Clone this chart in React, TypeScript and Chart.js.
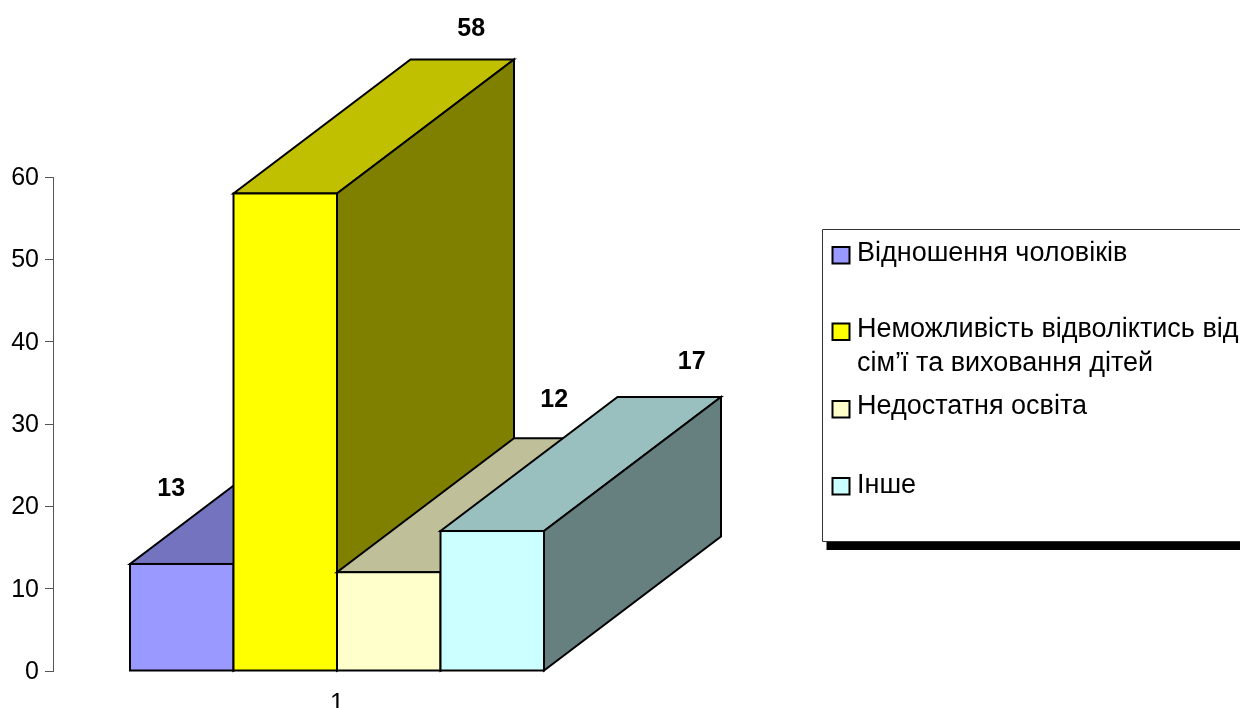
import React, { useEffect, useRef } from "react";
import { Chart, registerables } from "chart.js";

Chart.register(...registerables);

const categories = ["1"];
const seriesNames = [
  "Відношення чоловіків",
  "Неможливість відволіктись від",
  "Недостатня освіта",
  "Інше",
];
const legendContinuation = ["", "сім’ї та виховання дітей", "", ""];
const seriesValues = [13, 58, 12, 17];
const frontColors = ["#9999FF", "#FFFF00", "#FFFFCC", "#CCFFFF"];
const topColors = ["#7373BF", "#C0C000", "#BFBF99", "#99BFBF"];
const sideColors = ["#4D4D80", "#808000", "#808066", "#668080"];

const FONT = '"Liberation Sans", Arial, sans-serif';
const DEPTH_X = 177;
const DEPTH_Y = 134;
const LABEL_OFFSETS = [
  [-10.5, -75],
  [186, -164],
  [165.5, -172.5],
  [199.5, -169],
];
const LEGEND_BOX = { x: 822.5, y: 229.5, bottom: 541.5 };
const LEGEND_ROWS = [
  { swatch: 247, base: 261 },
  { swatch: 323.5, base: 337, next: 371 },
  { swatch: 401, base: 414 },
  { swatch: 478, base: 493 },
];

const poly = (ctx: CanvasRenderingContext2D, pts: number[][], fill: string) => {
  ctx.beginPath();
  pts.forEach((p, i) => (i ? ctx.lineTo(p[0], p[1]) : ctx.moveTo(p[0], p[1])));
  ctx.closePath();
  ctx.fillStyle = fill;
  ctx.fill();
  ctx.stroke();
};

const box3d = {
  id: "box3d",
  beforeDatasetsDraw(chart: any) {
    const ctx: CanvasRenderingContext2D = chart.ctx;
    ctx.save();
    ctx.lineWidth = 2;
    ctx.strokeStyle = "#000";
    ctx.lineJoin = "miter";
    seriesValues.forEach((_, i) => {
      const el = chart.getDatasetMeta(i).data[0];
      const l = el.x - el.width / 2;
      const r = el.x + el.width / 2;
      const t = el.y;
      const b = el.base;
      poly(ctx, [[l, t], [r, t], [r + DEPTH_X, t - DEPTH_Y], [l + DEPTH_X, t - DEPTH_Y]], topColors[i]);
      poly(ctx, [[r, t], [r + DEPTH_X, t - DEPTH_Y], [r + DEPTH_X, b - DEPTH_Y], [r, b]], sideColors[i]);
      el.draw(ctx);
      ctx.strokeRect(l, t, r - l, b - t);
    });
    ctx.fillStyle = "#000";
    ctx.font = `bold 25px ${FONT}`;
    ctx.textAlign = "center";
    ctx.textBaseline = "middle";
    seriesValues.forEach((v, i) => {
      const el = chart.getDatasetMeta(i).data[0];
      ctx.fillText(String(v), el.x + LABEL_OFFSETS[i][0], el.y + LABEL_OFFSETS[i][1]);
    });
    ctx.restore();
    return false;
  },
  afterDraw(chart: any) {
    const ctx: CanvasRenderingContext2D = chart.ctx;
    const W = chart.width;
    ctx.save();
    ctx.fillStyle = "#000";
    ctx.fillRect(LEGEND_BOX.x + 4, LEGEND_BOX.bottom + 0.5, W, 8);
    ctx.strokeStyle = "#333";
    ctx.lineWidth = 1;
    ctx.beginPath();
    ctx.moveTo(W, LEGEND_BOX.y);
    ctx.lineTo(LEGEND_BOX.x, LEGEND_BOX.y);
    ctx.lineTo(LEGEND_BOX.x, LEGEND_BOX.bottom);
    ctx.lineTo(W, LEGEND_BOX.bottom);
    ctx.stroke();
    ctx.font = `27px ${FONT}`;
    ctx.textAlign = "left";
    ctx.textBaseline = "alphabetic";
    seriesNames.forEach((name, i) => {
      const row = LEGEND_ROWS[i];
      ctx.fillStyle = frontColors[i];
      ctx.lineWidth = 2;
      ctx.strokeStyle = "#000";
      ctx.fillRect(832.5, row.swatch, 17, 16.5);
      ctx.strokeRect(832.5, row.swatch, 17, 16.5);
      ctx.fillStyle = "#000";
      ctx.fillText(name, 857, row.base);
      if (legendContinuation[i]) ctx.fillText(legendContinuation[i], 857, row.next as number);
    });
    ctx.restore();
  },
};

export default function App() {
  const ref = useRef<HTMLCanvasElement>(null);
  useEffect(() => {
    const chart = new Chart(ref.current as HTMLCanvasElement, {
      type: "bar",
      data: {
        labels: categories,
        datasets: seriesValues.map((v, i) => ({
          label: seriesNames[i] + (legendContinuation[i] ? " " + legendContinuation[i] : ""),
          data: [v],
          backgroundColor: frontColors[i],
          borderWidth: 0,
          barPercentage: 1,
          categoryPercentage: 414 / 568,
        })),
      },
      options: {
        animation: false,
        responsive: false,
        layout: { padding: { left: 0, top: 177, right: 619, bottom: 0 } },
        plugins: { legend: { display: false }, tooltip: { enabled: false } },
        scales: {
          x: {
            grid: { display: false },
            border: { display: false },
            ticks: { color: "#000", font: { family: FONT, size: 25 }, padding: 10, maxRotation: 0 },
            afterFit: (s: any) => { s.height = 37; },
          },
          y: {
            min: 0,
            max: 60,
            grid: { drawOnChartArea: false, color: "#555", tickLength: 8, lineWidth: 1 },
            border: { color: "#555", width: 1 },
            ticks: { stepSize: 10, color: "#000", font: { family: FONT, size: 25 }, padding: 6, labelOffset: 1 },
            afterFit: (s: any) => { s.width = 53; },
          },
        },
      },
      plugins: [box3d],
    } as any);
    return () => chart.destroy();
  }, []);
  return (
    <div style={{ position: "absolute", left: 0, top: 0, width: 1240, height: 708 }}>
      <canvas ref={ref} width={1240} height={708} style={{ display: "block" }} />
    </div>
  );
}
